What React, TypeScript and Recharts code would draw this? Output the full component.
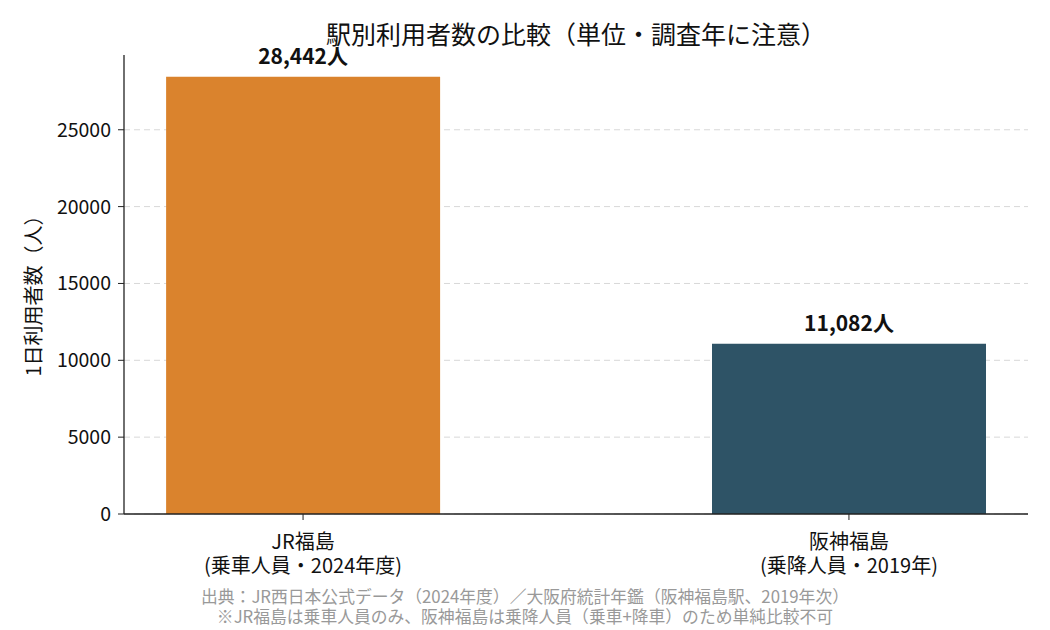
import { BarChart, Bar, XAxis, YAxis, CartesianGrid, Cell, LabelList } from "recharts";

const stations = ["JR福島", "阪神福島"];
const notes = ["(乗車人員・2024年度)", "(乗降人員・2019年)"];
const riders = [28442, 11082];
const barColors = ["#DA832D", "#2E5366"];
const yTicks = [0, 5000, 10000, 15000, 20000, 25000];

const data = stations.map((name, i) => ({ x: i, name, note: notes[i], value: riders[i] }));

const FONT = "'Noto Sans CJK JP', 'Noto Sans', sans-serif";

function StationTick(props: any) {
  const { x, y, payload } = props;
  const i = payload.value as number;
  return (
    <g transform={`translate(${x},${y})`}>
      <text textAnchor="middle" fontSize={20} fill="#111" fontFamily={FONT}>
        <tspan x={0} dy={27}>{stations[i]}</tspan>
        <tspan x={0} dy={23.5}>{notes[i]}</tspan>
      </text>
    </g>
  );
}

export default function App() {
  return (
    <div style={{ position: "fixed", left: 0, top: 0, width: 1050, height: 630, background: "#fff", fontFamily: FONT }}>
      <div style={{ position: "absolute", left: 124, width: 904, top: 18, textAlign: "center", fontSize: 25, color: "#111", lineHeight: "30px" }}>
        駅別利用者数の比較（単位・調査年に注意）
      </div>
      <div
        style={{
          position: "absolute",
          left: 32,
          top: 291,
          transform: "translate(-50%, -50%) rotate(-90deg)",
          whiteSpace: "nowrap",
          fontSize: 20,
          color: "#111",
        }}
      >
        1日利用者数（人）
      </div>
      <BarChart width={1050} height={630} data={data} margin={{ top: 55, right: 22, left: 0, bottom: 0 }}>
        <CartesianGrid vertical={false} syncWithTicks stroke="#d8d8d8" strokeDasharray="6 4" />
        <XAxis
          dataKey="x"
          type="number"
          domain={[-0.328, 1.328]}
          ticks={[0, 1]}
          allowDataOverflow
          height={116}
          tick={<StationTick />}
          axisLine={{ stroke: "#222", strokeWidth: 1.3 }}
          tickLine={{ stroke: "#222" }}
          tickSize={6}
        />
        <YAxis
          width={124}
          domain={[0, 29864]}
          ticks={yTicks}
          allowDataOverflow
          tick={{ fontSize: 19.5, fill: "#111", fontFamily: FONT }}
          axisLine={{ stroke: "#222", strokeWidth: 1.3 }}
          tickLine={{ stroke: "#222" }}
          tickSize={6}
          tickMargin={7}
        />
        <Bar dataKey="value" barSize={274} isAnimationActive={false}>
          {data.map((d, i) => (
            <Cell key={d.name} fill={barColors[i]} />
          ))}
          <LabelList
            dataKey="value"
            position="top"
            offset={13}
            formatter={(v: any) => `${Number(v).toLocaleString("en-US")}人`}
            style={{ fontSize: 21, fontWeight: 700, fill: "#111", fontFamily: FONT }}
          />
        </Bar>
      </BarChart>
      <div style={{ position: "absolute", left: 0, width: 1050, top: 587, textAlign: "center", fontSize: 16.8, color: "#999", lineHeight: "19.5px" }}>
        <div>出典：JR西日本公式データ（2024年度）／大阪府統計年鑑（阪神福島駅、2019年次）</div>
        <div>※JR福島は乗車人員のみ、阪神福島は乗降人員（乗車+降車）のため単純比較不可</div>
      </div>
    </div>
  );
}
